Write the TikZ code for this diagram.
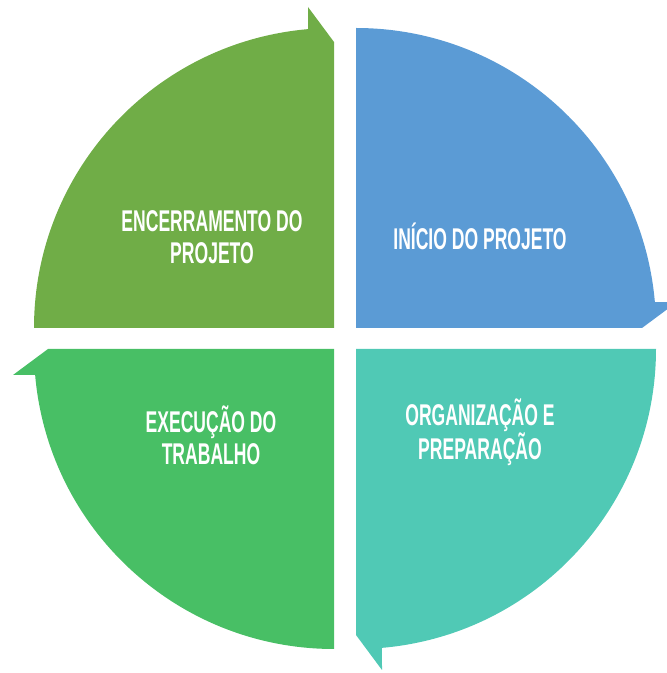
\documentclass[tikz,border=0pt]{standalone}
\usepackage{fontspec}
\newfontfamily\phasefont[FakeStretch=0.585]{Liberation Sans}
\definecolor{closegreen}{HTML}{70AD47}
\definecolor{startblue}{HTML}{5B9BD5}
\definecolor{prepteal}{HTML}{50C9B5}
\definecolor{workgreen}{HTML}{48BF65}
\tikzset{
    phase/.style={text=white, align=center, font=\phasefont\bfseries\fontsize{30}{32}\selectfont}
}
\newcommand{\quarter}[4]{
            \fill[#4, shift={(#1,#2)}, rotate=#3] (0,0) -- (0,300) arc[start angle=90, end angle=4.97, radius=300pt]
                -- (321,26) -- (286,0) -- cycle;
        }

\begin{document}
\begin{tikzpicture}[x=1pt, y=1pt]
        \clip (0,0) rectangle (667,673);
        \quarter{356}{345}{0}{startblue}
        \quarter{356}{324}{-90}{prepteal}
        \quarter{334}{324}{180}{workgreen}
        \quarter{334}{345}{90}{closegreen}

        \node[phase] (closing) at (212,436) {ENCERRAMENTO DO\\PROJETO};
        \node[phase] (start) at (480,437) {INÍCIO DO PROJETO};
        \node[phase] (prep) at (480,241) {ORGANIZAÇÃO E\\PREPARAÇÃO};
        \node[phase] (work) at (211,238) {EXECUÇÃO DO\\TRABALHO};
        \end{tikzpicture}
\end{document}
